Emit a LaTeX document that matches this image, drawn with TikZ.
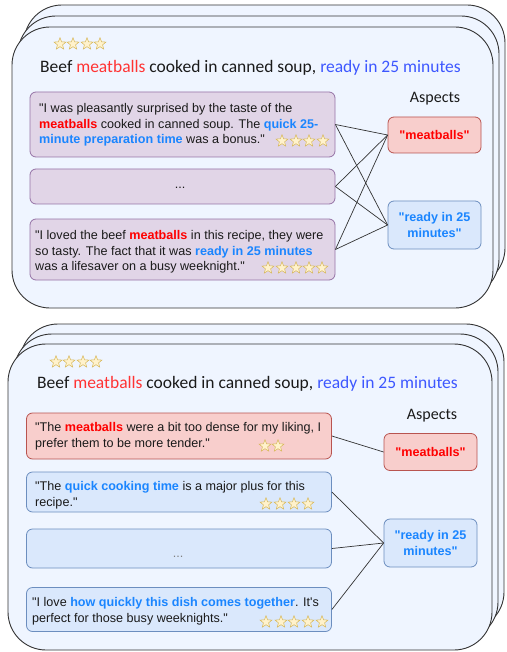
\documentclass[tikz,border=0pt]{standalone}
\usepackage{fontspec}
\setmainfont{Liberation Sans}[Ligatures=TeXOff]
\newfontfamily\calfont{Carlito}
\usetikzlibrary{shapes.geometric}
\definecolor{cardfill}{HTML}{EFF5FF}
\definecolor{cardline}{HTML}{333333}
\definecolor{purpfill}{HTML}{E1D5E7}
\definecolor{purpline}{HTML}{9673A6}
\definecolor{redfill}{HTML}{F8CECC}
\definecolor{redline}{HTML}{B85450}
\definecolor{bluefill}{HTML}{DAE8FC}
\definecolor{blueline}{HTML}{6C8EBF}
\definecolor{redtxt}{HTML}{FF0000}
\definecolor{bluetxt}{HTML}{1A85FF}
\definecolor{titlered}{HTML}{FF3333}
\definecolor{titleblue}{HTML}{3D57FF}
\definecolor{starfill}{HTML}{FFF2CC}
\definecolor{starline}{HTML}{D6B656}
\definecolor{txt}{HTML}{1A1A1A}
\newcommand\redb[1]{\textcolor{redtxt}{\textbf{#1}}}
\newcommand\blueb[1]{\textcolor{bluetxt}{\textbf{#1}}}
\tikzset{
  card/.style={draw=cardline, fill=cardfill, line width=0.9pt, rounded corners=38pt},
  revbox/.style={rounded corners=6pt, line width=0.8pt, minimum width=305pt, inner sep=0pt},
  pbox/.style={revbox, draw=purpline, fill=purpfill},
  rbox/.style={revbox, draw=redline, fill=redfill},
  bbox/.style={revbox, draw=blueline, fill=bluefill},
  aspbox/.style={rounded corners=6pt, line width=0.8pt, minimum width=93pt, inner sep=0pt, align=center,
    font=\fontsize{12.6}{16}\selectfont\bfseries},
  rtext/.style={font=\fontsize{12.6}{15.7}\selectfont, text=txt, align=left, inner sep=0pt, anchor=west},
  titletext/.style={font=\calfont\fontsize{17.5}{20}\selectfont, text=txt, inner sep=0pt, anchor=west},
  asptitle/.style={font=\calfont\fontsize{16}{18}\selectfont, text=txt, inner sep=0pt},
  sstar/.style={star, star points=5, star point ratio=2.3, minimum size=12.5pt, inner sep=0pt,
    draw=starline, fill=starfill, line width=0.5pt},
  conn/.style={draw=cardline, line width=0.7pt}
}
\begin{document}
\begin{tikzpicture}[x=1pt, y=-1pt]
\useasboundingbox (0,0) rectangle (506,652);
% ---------- top stack ----------
\draw[card] (24,5) rectangle (505,286);
\draw[card] (18,16) rectangle (499,297);
\draw[card] (12,27) rectangle (493,308);
\foreach \x [count=\i] in {60,73,87,100} \node[sstar] (hs\i) at (\x,44) {};
\node[titletext] (title1) at (40,68) {Beef \textcolor{titlered}{meatballs} cooked in canned soup, \textcolor{titleblue}{ready in 25 minutes}};
\node[asptitle] (asp1) at (435,99) {Aspects};

\node[pbox, minimum height=65pt] (r1) at (182.5,124.5) {};
\node[rtext] (r1t) at (39,125) {"I was pleasantly surprised by the taste of the\\\redb{meatballs} cooked in canned soup. The \blueb{quick 25-}\\\blueb{minute preparation time} was a bonus."};
\foreach \x [count=\i] in {282,296,309,323} \node[sstar] (r1s\i) at (\x,141) {};

\node[pbox, minimum height=35pt] (r2) at (182.5,186.5) {};
\node[rtext, anchor=center] (r2t) at (180,188) {...};

\node[pbox, minimum height=61pt] (r3) at (182.5,249.5) {};
\node[rtext] (r3t) at (35,252) {"I loved the beef \redb{meatballs} in this recipe, they were\\so tasty. The fact that it was \blueb{ready in 25 minutes}\\was a lifesaver on a busy weeknight."};
\foreach \x [count=\i] in {268,282,296,309,322} \node[sstar] (r3s\i) at (\x,268) {};

\node[aspbox, draw=redline, fill=redfill, text=redtxt, minimum height=36pt] (m1) at (434.5,135) {"meatballs"};
\node[aspbox, draw=blueline, fill=bluefill, text=bluetxt, minimum height=48pt] (rd1) at (434.5,225) {"ready in 25\\minutes"};

\foreach \r in {r1,r2,r3} {
  \draw[conn] (\r.east) -- (m1.west);
  \draw[conn] (\r.east) -- (rd1.west);
}

% ---------- bottom stack ----------
\draw[card] (20,324) rectangle (504,630);
\draw[card] (14,334) rectangle (498,640);
\draw[card] (8,344) rectangle (492,650);
\foreach \x [count=\i] in {56,69,83,96} \node[sstar] (bs\i) at (\x,362) {};
\node[titletext] (title2) at (37,384) {Beef \textcolor{titlered}{meatballs} cooked in canned soup, \textcolor{titleblue}{ready in 25 minutes}};
\node[asptitle] (asp2) at (432,416) {Aspects};

\node[rbox, minimum height=46pt] (b1) at (179,436) {};
\node[rtext] (b1t) at (35,436) {"The \redb{meatballs} were a bit too dense for my liking, I\\prefer them to be more tender."};
\foreach \x [count=\i] in {265,278} \node[sstar] (b1s\i) at (\x,446) {};

\node[bbox, minimum height=40pt] (b2) at (179,492) {};
\node[rtext] (b2t) at (35,495) {"The \blueb{quick cooking time} is a major plus for this\\recipe."};
\foreach \x [count=\i] in {266,280,294,308} \node[sstar] (b2s\i) at (\x,504) {};

\node[bbox, minimum height=39pt] (b3) at (179,548.5) {};
\node[rtext, anchor=center, text=gray] (b3t) at (178,557) {...};

\node[bbox, minimum height=44pt] (b4) at (179,609.5) {};
\node[rtext] (b4t) at (32,611) {"I love \blueb{how quickly this dish comes together}. It's\\perfect for those busy weeknights."};
\foreach \x [count=\i] in {266,281,294,308,322} \node[sstar] (b4s\i) at (\x,622) {};

\node[aspbox, draw=redline, fill=redfill, text=redtxt, minimum height=37pt] (bm) at (430.5,452) {"meatballs"};
\node[aspbox, draw=blueline, fill=bluefill, text=bluetxt, minimum height=48pt] (brd) at (430.5,543) {"ready in 25\\minutes"};

\draw[conn] (b1.east) -- (bm.west);
\foreach \r in {b2,b3,b4} \draw[conn] (\r.east) -- (brd.west);
\end{tikzpicture}
\end{document}
